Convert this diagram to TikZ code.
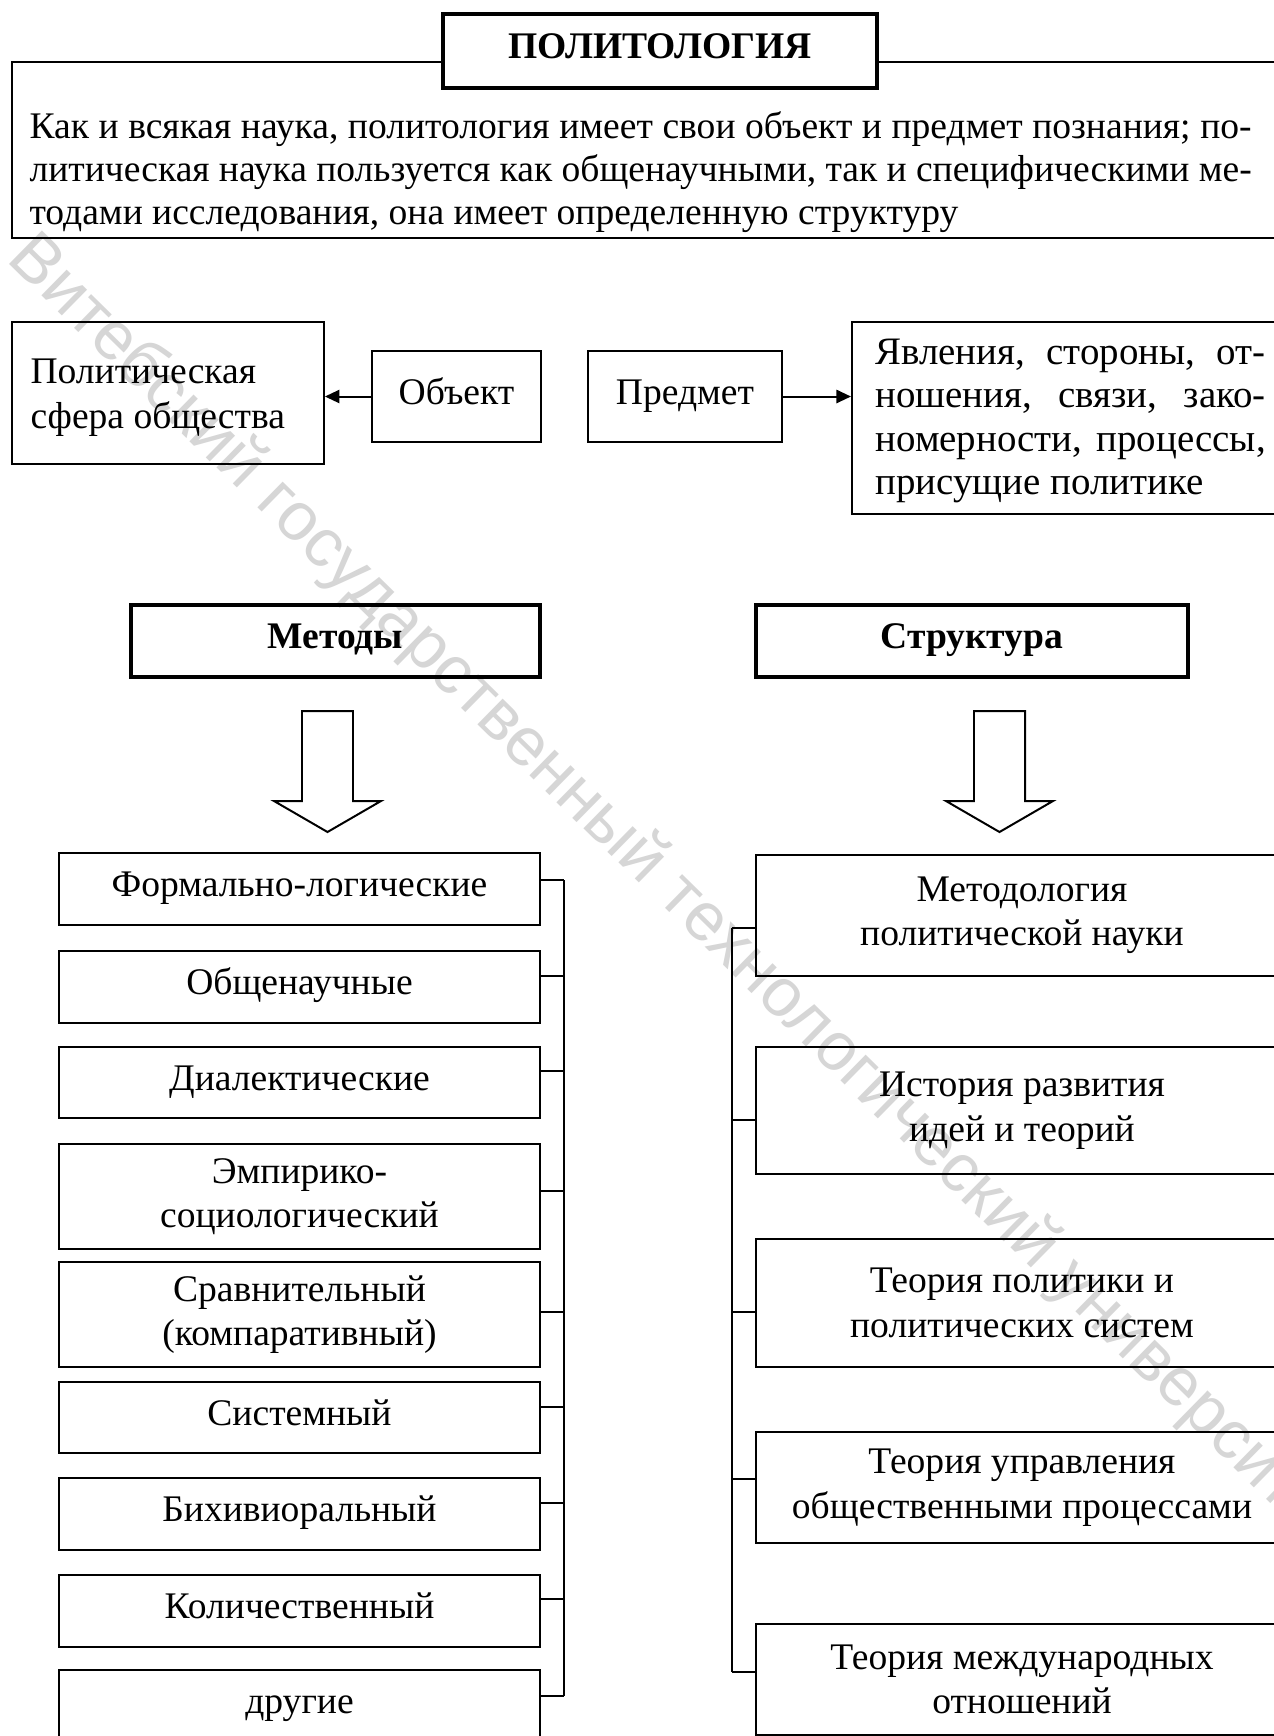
\documentclass[tikz,border=0pt]{standalone}
\usepackage{fontspec}
\setmainfont{Liberation Serif}
\newfontfamily\wmfont{Liberation Sans}
\usetikzlibrary{arrows.meta}
\begin{document}
\begin{tikzpicture}[x=0.378pt,y=-0.378pt,
  every node/.style={font=\fontsize{14.2}{16.8}\selectfont},
  box/.style 2 args={draw, line width=0.75pt, inner sep=0pt, align=center, minimum width=#1, minimum height=#2},
  oneline/.style={text height=9pt, text depth=3pt},
  headbox/.style 2 args={draw, line width=1.2pt, inner sep=0pt, align=center, minimum width=#1, minimum height=#2, font=\fontsize{14.2}{16.8}\selectfont\bfseries},
  plain/.style={inner sep=0pt, align=left},
  bus/.style={line width=0.5pt},
  conn/.style={line width=0.75pt, -{Triangle[length=5.5pt,width=5pt]}},
  blockarrow/.style={draw, line width=0.75pt, fill=white, line join=miter},
  wm/.style={rotate=-44.5, anchor=west, inner sep=0pt, text=gray!32, font=\wmfont\fontsize{25.8}{30}\selectfont}]
\useasboundingbox (0,0) rectangle (1274,1736);
\clip (0,0) rectangle (1274,1736);
\fill[white] (0,0) rectangle (1274,1736);

% watermark
\node[wm] (watermark) at (18,247) {Витебский государственный технологический университет};

% intro
\node[box={489.9pt}{66.5pt}] (intro) at (660,150) {};
\node[plain, anchor=north west, font=\fontsize{14.2}{16.2}\selectfont] (introtext) at (29,111) {\makebox[462pt][s]{Как и всякая наука, политология имеет свои объект и предмет познания; по-}\\
\makebox[462pt][s]{литическая наука пользуется как общенаучными, так и специфическими ме-}\\
тодами исследования, она имеет определенную структуру};
\node[headbox={164pt}{28pt}, fill=white, oneline] (title) at (660,51) {ПОЛИТОЛОГИЯ};

% object / subject row
\node[box={117.9pt}{53.7pt}] (sphere) at (168,393) {};
\node[plain, anchor=west, font=\fontsize{14.2}{17}\selectfont] (spheretext) at (30,398) {Политическая\\сфера общества};
\node[box={63.9pt}{34.4pt}, oneline] (obj) at (456.5,396.5) {Объект};
\node[box={73.3pt}{34.4pt}, oneline] (subj) at (685,396.5) {Предмет};
\node[box={163.7pt}{72.6pt}] (phen) at (1068.5,418) {};
\node[plain, anchor=west, font=\fontsize{14.7}{16.4}\selectfont] (phentext) at (875,421) {\makebox[147.5pt][s]{Явления, стороны, от-}\\\makebox[147.5pt][s]{ношения, связи, зако-}\\\makebox[147.5pt][s]{номерности, процессы,}\\присущие политике};
\draw[conn] (obj.west) -- (obj.west -| sphere.east);
\draw[conn] (subj.east) -- (subj.east -| phen.west);

% headers
\node[headbox={154.6pt}{27.2pt}, oneline] (methods) at (335.5,641) {Методы};
\node[headbox={163.3pt}{27.2pt}, oneline] (struct) at (972,641) {Структура};

% block arrows
\coordinate (la) at (327.5,711);
\coordinate (ra) at (999.5,711);
\foreach \a in {la,ra}{
  \draw[blockarrow] (\a) ++(-25.5,0) -- ++(51,0) -- ++(0,90) -- ++(28,0) -- ++(-53.5,31) -- ++(-53.5,-31) -- ++(28,0) -- cycle;
}

% methods list
\node[box={181.8pt}{27.2pt}, oneline] (m1) at (299.5,889) {Формально-логические};
\node[box={181.8pt}{27.2pt}, oneline] (m2) at (299.5,987) {Общенаучные};
\node[box={181.8pt}{26.8pt}, oneline] (m3) at (299.5,1082.5) {Диалектические};
\node[box={181.8pt}{39.7pt}] (m4) at (299.5,1196.5) {Эмпирико-\\социологический};
\node[box={181.8pt}{39.7pt}] (m5) at (299.5,1314.5) {Сравнительный\\(компаративный)};
\node[box={181.8pt}{26.8pt}, oneline] (m6) at (299.5,1417.5) {Системный};
\node[box={181.8pt}{27.2pt}, oneline] (m7) at (299.5,1514) {Бихивиоральный};
\node[box={181.8pt}{27.2pt}, oneline] (m8) at (299.5,1611) {Количественный};
\node[box={181.8pt}{27.2pt}, oneline] (m9) at (299.5,1706) {другие};

% structure list
\node[box={201.1pt}{45.7pt}] (s1) at (1022,915.5) {Методология\\политической науки};
\node[box={201.1pt}{48pt}] (s2) at (1022,1110.5) {История развития\\идей и теорий};
\node[box={201.1pt}{48.4pt}] (s3) at (1022,1303) {Теория политики и\\политических систем};
\node[box={201.1pt}{42pt}] (s4) at (1022,1487.5) {Теория управления\\общественными процессами};
\node[box={201.1pt}{42pt}] (s5) at (1022,1679.5) {Теория международных\\отношений};

% buses
\coordinate (lbus) at (564,0);
\coordinate (rbus) at (732,0);
\foreach \n/\s in {m1/3.4,m2/4.2,m3/4.3,m4/2.1,m5/0.9,m6/4.0,m7/4.2,m8/4.5,m9/3.8}{
  \coordinate (t\n) at ([yshift=\s pt]\n.east);
  \draw[bus] (t\n) -- (t\n -| lbus);
}
\draw[bus] (tm1 -| lbus) -- (tm9 -| lbus);
\foreach \n/\s in {s1/-4.7,s2/-3.6,s3/-3.4,s4/3.2,s5/2.8}{
  \coordinate (t\n) at ([yshift=\s pt]\n.west);
  \draw[bus] (t\n) -- (t\n -| rbus);
}
\draw[bus] (ts1 -| rbus) -- (ts5 -| rbus);
\end{tikzpicture}
\end{document}
